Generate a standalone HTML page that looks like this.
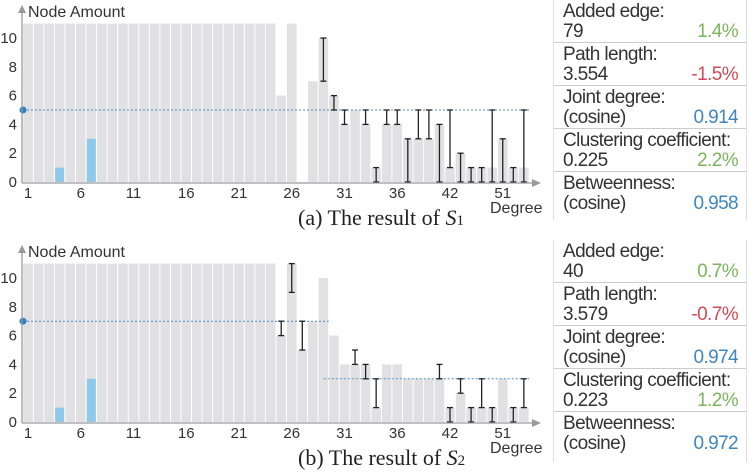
<!DOCTYPE html>
<html><head><meta charset="utf-8"><style>
body{margin:0;background:#fff;width:751px;height:472px;overflow:hidden;font-family:"Liberation Sans",sans-serif}
.panel{position:absolute;left:553px;width:192px;border-left:1px solid #ddd;border-right:1px solid #ddd}
.row{position:relative;height:43px;border-bottom:1px solid #ccc;font-family:"Liberation Sans Narrow","Liberation Sans",sans-serif;font-size:19px;letter-spacing:-0.6px;line-height:20px;color:#333;padding-left:9px;box-sizing:border-box;padding-top:2px;white-space:nowrap}
.row:last-child{border-bottom:none}
.v{position:absolute;right:8px;top:22px}
.g{color:#7ab55c}.r{color:#d04a55}.b{color:#3f86bf}
</style></head><body>
<svg id="chart" width="551" height="472" style="position:absolute;left:0;top:0"></svg>
<div class="panel" style="top:0;height:220px">
<div class="row">Added edge:<br>79<span class="v g">1.4%</span></div>
<div class="row">Path length:<br>3.554<span class="v r">-1.5%</span></div>
<div class="row">Joint degree:<br>(cosine)<span class="v b">0.914</span></div>
<div class="row">Clustering coefficient:<br>0.225<span class="v g">2.2%</span></div>
<div class="row">Betweenness:<br>(cosine)<span class="v b">0.958</span></div>
</div>
<div class="panel" style="top:240px;height:222px">
<div class="row">Added edge:<br>40<span class="v g">0.7%</span></div>
<div class="row">Path length:<br>3.579<span class="v r">-0.7%</span></div>
<div class="row">Joint degree:<br>(cosine)<span class="v b">0.974</span></div>
<div class="row">Clustering coefficient:<br>0.223<span class="v g">1.2%</span></div>
<div class="row">Betweenness:<br>(cosine)<span class="v b">0.972</span></div>
</div>
<script>
const tickLabels=["1","6","11","16","21","26","31","36","42","51"];
const tickIdx=[1,6,11,16,21,26,31,36,41,46];
const grayA=[11,11,11,11,11,11,11,11,11,11,11,11,11,11,11,11,11,11,11,11,11,11,11,11,6,11,0,7,10,6,4,5,4,1,4,4,3,3,3,4,1,2,1,1,1,3,1,1];
const blueA=[0,0,0,1,0,0,3];
const errA=[[29,10,7],[30,6,5],[31,5,4],[33,5,4],[34,1,0],[35,5,4],[36,5,4],[37,3,0],[38,5,3],[39,5,3],[40,4,0],[41,5,1],[42,2,0],[43,1,0],[44,1,0],[45,5,0],[46,3,0],[47,1,0],[48,5,0]];
const refA=[[1,48.5,5]];
const grayB=[11,11,11,11,11,11,11,11,11,11,11,11,11,11,11,11,11,11,11,11,11,11,11,11,6,11,5,7,10,6,4,4,4,1,4,4,3,3,3,3,1,2,1,1,1,3,1,1];
const blueB=[0,0,0,1,0,0,3];
const errB=[[25,7,6],[26,11,9],[27,7,5],[32,5,4],[33,4,3],[34,3,1],[40,4,3],[41,1,0],[42,3,2],[43,1,0],[44,3,1],[45,1,0],[47,1,0],[48,3,1]];
const refB=[[1,29.5,7],[29.5,48.5,3]];
const svg=document.getElementById('chart');
const NS='http://www.w3.org/2000/svg';
function mk(t,a){const e=document.createElementNS(NS,t);for(const k in a)e.setAttribute(k,a[k]);svg.appendChild(e);return e;}
const xS=i=>28+(i-1)*10.55;
function draw(oy,gray,blue,err,refs,cap,sub,pfx){
  const yS=v=>oy+182-Math.min(v,11)*14.4;
  gray.forEach((v,i)=>{if(!v)return;const e=mk('rect',{x:xS(i+1)-4.8,y:yS(v),width:9.6,height:yS(0)-yS(v),fill:'#e1e1e3'});
    
    });
  blue.forEach((v,i)=>{if(!v)return;const e=mk('rect',{x:xS(i+1)-4.5,y:yS(v),width:9,height:yS(0)-yS(v),fill:'#8ec9ea'});
    
    });
  refs.forEach(r=>{const e=mk('line',{x1:xS(r[0])-5,x2:xS(r[1]),y1:yS(r[2]),y2:yS(r[2]),stroke:'#4a8fc4','stroke-width':1,'stroke-dasharray':'2,2'});
    
    });
  err.forEach(d=>{const x=xS(d[0]);const e=mk('line',{x1:x,x2:x,y1:yS(d[1]),y2:yS(d[2]),stroke:'#222','stroke-width':1.3});
    
    
    mk('line',{x1:x-3,x2:x+3,y1:yS(d[1]),y2:yS(d[1]),stroke:'#222','stroke-width':1.3});
    mk('line',{x1:x-3,x2:x+3,y1:yS(d[2]),y2:yS(d[2]),stroke:'#222','stroke-width':1.3});});
  mk('circle',{cx:23,cy:yS(refs[0][2]),r:3.5,fill:'#2f7fc1'});
  const ax=mk('path',{d:`M22 ${oy+183}V${oy+12}M22 ${oy+183}H534`,stroke:'#9a9a9a','stroke-width':1.3,fill:'none'});
  
  
  mk('path',{d:`M18 ${oy+13}L22 ${oy+5}L26 ${oy+13}Z M532 ${oy+179}L541 ${oy+183}L532 ${oy+187}Z`,fill:'#9a9a9a'});
  [0,2,4,6,8,10].forEach(v=>{const t=mk('text',{x:17,y:yS(v)+5,'text-anchor':'end','font-size':15,fill:'#333'});t.textContent=v;
    
    });
  tickLabels.forEach((l,k)=>{const t=mk('text',{x:xS(tickIdx[k]),y:oy+198,'text-anchor':'middle','font-size':15,fill:'#333'});t.textContent=l;
    
    });
  let t=mk('text',{x:28,y:oy+17,'font-size':16,fill:'#333'});t.textContent='Node Amount';
  
  
  t=mk('text',{x:490,y:oy+213,'font-size':16,fill:'#333'});t.textContent='Degree';
  
  
  t=mk('text',{x:298,y:oy+225,'font-size':22,fill:'#222','font-family':'Liberation Serif, serif'});
  t.innerHTML=cap+'<tspan font-style="italic">S</tspan><tspan font-size="15">'+sub+'</tspan>';
  
  
}
draw(0,grayA,blueA,errA,refA,'(a) The result of ','1','a-');
draw(240,grayB,blueB,errB,refB,'(b) The result of ','2','b-');
</script>
</body></html>
